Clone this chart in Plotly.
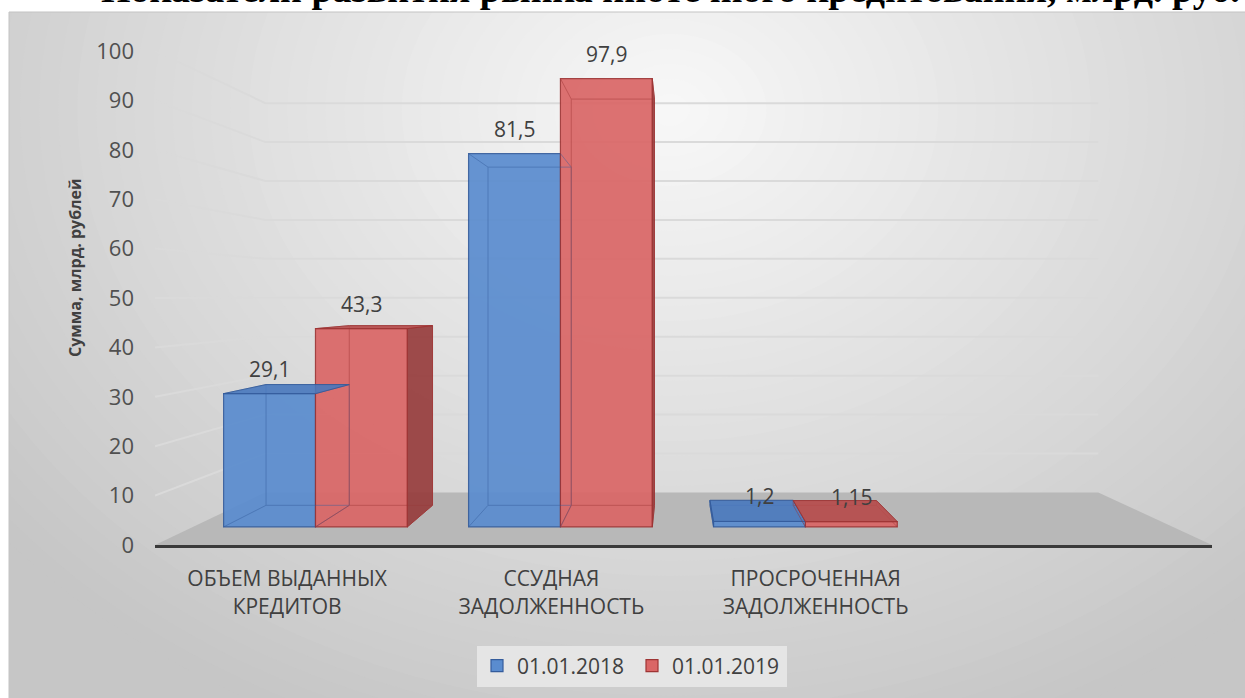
import plotly.graph_objects as go

CATEGORIES = ["ОБЪЕМ ВЫДАННЫХ<br>КРЕДИТОВ", "ССУДНАЯ<br>ЗАДОЛЖЕННОСТЬ", "ПРОСРОЧЕННАЯ<br>ЗАДОЛЖЕННОСТЬ"]
SERIES = ["01.01.2018", "01.01.2019"]
VALUES_2018 = [29.1, 81.5, 1.2]
VALUES_2019 = [43.3, 97.9, 1.15]
Y_TICKS = [0, 10, 20, 30, 40, 50, 60, 70, 80, 90, 100]

TITLE = "Показатели развития рынка ипотечного кредитования, млрд. руб."
Y_TITLE = "Сумма, млрд. рублей"

# fake 3D view: vanishing point (data units) and depth scales
VX, VY = 1.47, 50.2
S_WALL = 0.788
S_FRONT, S_BACK = 0.927, 0.84
BAR_W = 0.375

# plot area in pixels (front wall)
L, R, T, B = 155, 1212, 51, 545
W, H = R - L, B - T

STYLE = {
    "01.01.2018": dict(front="rgb(90,140,207)", edge="rgb(52,92,156)",
                       top="rgb(72,120,190)", side="rgb(60,100,165)"),
    "01.01.2019": dict(front="rgb(218,102,102)", edge="rgb(158,52,52)",
                       top="rgb(182,74,74)", side="rgb(150,58,58)"),
}
TEXT = "#404040"


def proj(x, y, s):
    return VX + s * (x - VX), VY + s * (y - VY)


def px2x(px):
    return (px - L) / W


def py2y(py):
    return (B - py) / H


def fmt(v):
    return f"{v:g}".replace(".", ",")


def poly_xy(pts, close=True):
    xs = [p[0] for p in pts]
    ys = [p[1] for p in pts]
    if close:
        xs.append(pts[0][0])
        ys.append(pts[0][1])
    return xs, ys


fig = go.Figure()
annotations = []

for si, (name, vals) in enumerate(zip(SERIES, [VALUES_2018, VALUES_2019])):
    st = STYLE[name]
    bx_, bw_, bb_, bh_ = [], [], [], []
    for i, v in enumerate(vals):
        x0 = i - BAR_W if si == 0 else i
        x1 = x0 + BAR_W
        fx0, fy0 = proj(x0, 0, S_FRONT)
        fx1, fy1 = proj(x1, v, S_FRONT)
        bx_.append((fx0 + fx1) / 2)
        bw_.append(fx1 - fx0)
        bb_.append(fy0)
        bh_.append(fy1 - fy0)

        # edges seen through the semi-transparent box
        ex, ey = poly_xy([proj(x0, 0, S_BACK), proj(x1, 0, S_BACK),
                          proj(x1, v, S_BACK), proj(x0, v, S_BACK)])
        ex.append(None)
        ey.append(None)
        for cx, cy in [(x0, 0), (x1, 0), (x0, v), (x1, v)]:
            p, q = proj(cx, cy, S_FRONT), proj(cx, cy, S_BACK)
            ex += [p[0], q[0], None]
            ey += [p[1], q[1], None]
        fig.add_trace(go.Scatter(x=ex, y=ey, mode="lines",
                                 line=dict(color=st["edge"], width=1),
                                 opacity=0.45, showlegend=False, hoverinfo="skip"))

        # outer side face
        side_x = None
        if si == 1 and x1 < VX:
            side_x = x1
        if si == 0 and x0 > VX:
            side_x = x0
        if side_x is not None:
            sx, sy = poly_xy([proj(side_x, 0, S_FRONT), proj(side_x, v, S_FRONT),
                              proj(side_x, v, S_BACK), proj(side_x, 0, S_BACK)])
            fig.add_trace(go.Scatter(x=sx, y=sy, mode="lines", fill="toself",
                                     fillcolor=st["side"], opacity=0.9,
                                     line=dict(color=st["edge"], width=1),
                                     showlegend=False, hoverinfo="skip"))

        # top face (only when below eye level)
        if v < VY:
            tx, ty = poly_xy([proj(x0, v, S_FRONT), proj(x1, v, S_FRONT),
                              proj(x1, v, S_BACK), proj(x0, v, S_BACK)])
            fig.add_trace(go.Scatter(x=tx, y=ty, mode="lines", fill="toself",
                                     fillcolor=st["top"], opacity=0.9,
                                     line=dict(color=st["edge"], width=1),
                                     showlegend=False, hoverinfo="skip"))

        annotations.append(dict(x=(fx0 + fx1) / 2, y=fy1, xref="x", yref="y",
                                text=fmt(v), showarrow=False, yshift=25,
                                font=dict(size=21, color=TEXT)))

    fig.add_trace(go.Bar(
        x=bx_, y=bh_, base=bb_, width=bw_, name=name,
        marker=dict(color=st["front"], opacity=0.92,
                    line=dict(color=st["edge"], width=1.2)),
        hoverinfo="skip",
    ))

# background: radial-ish grey gradient inside the chart frame
shapes = [dict(type="rect", xref="paper", yref="paper", layer="below",
               x0=px2x(9), x1=px2x(1260), y0=py2y(12), y1=py2y(710),
               fillcolor="rgb(198,198,198)", line=dict(width=0))]
n = 45
for k in range(n):
    f = k / (n - 1)
    rx, ry = 840 * (1 - f) + 20, 660 * (1 - f) + 16
    c = int(round(198 + (247 - 198) * f))
    shapes.append(dict(type="circle", xref="paper", yref="paper", layer="below",
                       x0=px2x(670 - rx), x1=px2x(670 + rx),
                       y0=py2y(110 + ry), y1=py2y(110 - ry),
                       fillcolor=f"rgb({c},{c},{c})", line=dict(width=0)))
shapes += [
    dict(type="rect", xref="paper", yref="paper", layer="below",
         x0=px2x(-20), x1=px2x(9), y0=py2y(720), y1=py2y(-20),
         fillcolor="white", line=dict(width=0)),
    dict(type="rect", xref="paper", yref="paper", layer="below",
         x0=px2x(-20), x1=px2x(1270), y0=py2y(12), y1=py2y(-20),
         fillcolor="white", line=dict(width=0)),
    dict(type="rect", xref="paper", yref="paper", layer="below",
         x0=px2x(9), x1=px2x(1250), y0=py2y(705), y1=py2y(12),
         fillcolor="rgba(0,0,0,0)", line=dict(color="rgb(195,195,195)", width=1)),
]

# floor
fl = [proj(-0.5, 0, 1), proj(3.5, 0, 1), proj(3.5, 0, S_WALL), proj(-0.5, 0, S_WALL)]
path = "M " + " L ".join(f"{x},{y}" for x, y in fl) + " Z"
shapes.append(dict(type="path", xref="x", yref="y", layer="below", path=path,
                   fillcolor="rgb(184,184,184)", line=dict(width=0)))

# gridlines on left and back walls
for t in Y_TICKS[1:]:
    a = proj(-0.5, t, 1)
    b = proj(-0.5, t, S_WALL)
    c = proj(3.5, t, S_WALL)
    shapes.append(dict(type="path", xref="x", yref="y", layer="below",
                       path=f"M {a[0]},{a[1]} L {b[0]},{b[1]} L {c[0]},{c[1]}",
                       line=dict(color="rgb(218,218,218)", width=2)))

# title sits partly above the top edge, as in the source image
annotations.append(dict(text=f"<b>{TITLE}</b>", xref="paper", yref="paper",
                        x=px2x(670), y=py2y(12), xanchor="center", yanchor="bottom",
                        showarrow=False,
                        font=dict(family="Liberation Serif", size=38, color="black")))
annotations.append(dict(text=f"<b>{Y_TITLE}</b>", xref="paper", yref="paper",
                        x=px2x(75), y=py2y(268), xanchor="center", yanchor="middle",
                        textangle=-90, showarrow=False,
                        font=dict(size=16, color=TEXT)))

fig.update_layout(
    width=1245, height=698,
    margin=dict(l=L, r=1245 - R, t=T, b=698 - B),
    paper_bgcolor="white",
    plot_bgcolor="rgba(0,0,0,0)",
    font=dict(family="Open Sans", color=TEXT),
    barmode="overlay",
    showlegend=True,
    legend=dict(orientation="h", x=px2x(632), y=py2y(666),
                xanchor="center", yanchor="middle", entrywidth=110,
                bgcolor="rgb(229,229,229)", font=dict(size=21, color=TEXT)),
    xaxis=dict(range=[-0.5, 3.5], tickvals=[0, 1, 2], ticktext=CATEGORIES,
               showgrid=False, zeroline=False, showline=True,
               linecolor="#3a3a3a", linewidth=3, ticks="", ticklabelstandoff=13,
               tickfont=dict(size=21, color=TEXT)),
    yaxis=dict(range=[0, 100], tickvals=Y_TICKS, showgrid=False, zeroline=False,
               showline=False, ticks="", ticklabelstandoff=20,
               tickfont=dict(size=22, color="#505050")),
    shapes=shapes,
    annotations=annotations,
)

# the page body has a default 8px margin; drop it so the figure sits at 0,0
fig.write_html("out.html", config={"displayModeBar": False},
               post_script="document.body.style.margin = '0';")
